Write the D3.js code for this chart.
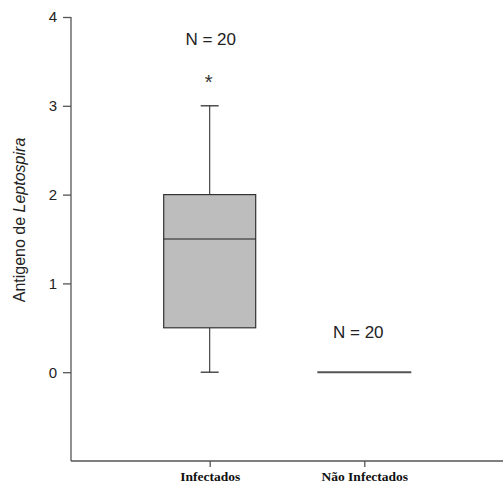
<!DOCTYPE html>
<html><head><meta charset="utf-8">
<script src="https://cdn.jsdelivr.net/npm/d3@7"></script>
<style>body{margin:0;background:#fff}svg{display:block}</style>
</head><body>
<script>
const categories = ["Infectados", "Não Infectados"];
const nLabels = ["N = 20", "N = 20"];
const q1 = [0.5, 0];
const median = [1.5, 0];
const q3 = [2, 0];
const whiskerLow = [0, 0];
const whiskerHigh = [3, 0];
const extremes = [[3.3], []];
const nLabelY = [3.75, 0.45];
const yTicks = [0, 1, 2, 3, 4];

const W = 503, H = 483;
const svg = d3.select("body").append("svg").attr("width", W).attr("height", H);
const y = d3.scaleLinear().domain([-1, 4]).range([461, 17]);
const x = d3.scalePoint().domain(categories).range([71, 503]).padding(0.897);
const axisColor = "#555";

// Y axis
const ya = svg.append("g").attr("transform", "translate(71,0)")
  .call(d3.axisLeft(y).tickValues(yTicks).tickSize(8).tickPadding(6).tickFormat(d3.format("d")));
ya.select(".domain").attr("d", `M-0,${y(4)}V${y(-1)}`).attr("stroke", axisColor).attr("stroke-width", 1.3);
ya.selectAll(".tick line").attr("stroke", axisColor).attr("stroke-width", 1.3);
ya.selectAll(".tick text").attr("font-family", "Arial, Liberation Sans, sans-serif").attr("font-size", 15).attr("fill", "#222");

// X axis
const xa = svg.append("g").attr("transform", `translate(0,${y(-1)})`)
  .call(d3.axisBottom(x).tickSize(6));
xa.select(".domain").attr("d", `M71,0H503`).attr("stroke", axisColor).attr("stroke-width", 1.3);
xa.selectAll(".tick line").attr("stroke", axisColor).attr("stroke-width", 1.3);
xa.selectAll(".tick text").attr("y", 20).attr("dy", 0).attr("font-family", "Times New Roman, Liberation Serif, serif")
  .attr("font-weight", "bold").attr("font-size", 13.5).attr("fill", "#111");

// Y label
const yl = svg.append("text").attr("transform", `translate(25,220) rotate(-90)`)
  .attr("text-anchor", "middle").attr("font-family", "Arial, Liberation Sans, sans-serif")
  .attr("font-size", 16).attr("fill", "#222");
yl.append("tspan").text("Antigeno de ");
yl.append("tspan").attr("font-style", "italic").text("Leptospira");

const boxW = 92, capW = 18;
categories.forEach((c, i) => {
  const cx = x(c);
  const g = svg.append("g");
  if (q3[i] > q1[i]) {
    g.append("line").attr("x1", cx).attr("x2", cx).attr("y1", y(q3[i])).attr("y2", y(whiskerHigh[i])).attr("stroke", "#333").attr("stroke-width", 1.1);
    g.append("line").attr("x1", cx).attr("x2", cx).attr("y1", y(q1[i])).attr("y2", y(whiskerLow[i])).attr("stroke", "#333").attr("stroke-width", 1.1);
    g.append("line").attr("x1", cx - capW / 2).attr("x2", cx + capW / 2).attr("y1", y(whiskerHigh[i])).attr("y2", y(whiskerHigh[i])).attr("stroke", "#333").attr("stroke-width", 1.3);
    g.append("line").attr("x1", cx - capW / 2).attr("x2", cx + capW / 2).attr("y1", y(whiskerLow[i])).attr("y2", y(whiskerLow[i])).attr("stroke", "#333").attr("stroke-width", 1.3);
    g.append("rect").attr("x", cx - boxW / 2).attr("width", boxW)
      .attr("y", y(q3[i])).attr("height", y(q1[i]) - y(q3[i]))
      .attr("fill", "#bdbdbd").attr("stroke", "#333").attr("stroke-width", 1.2);
    g.append("line").attr("x1", cx - boxW / 2).attr("x2", cx + boxW / 2).attr("y1", y(median[i])).attr("y2", y(median[i])).attr("stroke", "#222").attr("stroke-width", 1.2);
  } else {
    g.append("line").attr("x1", cx - 47).attr("x2", cx + 47).attr("y1", y(median[i])).attr("y2", y(median[i])).attr("stroke", "#555").attr("stroke-width", 2);
  }
  extremes[i].forEach(v => {
    g.append("text").attr("x", cx - 1).attr("y", y(v)).attr("dy", 10).attr("text-anchor", "middle")
      .attr("font-family", "Arial, Liberation Sans, sans-serif").attr("font-size", 20).attr("fill", "#333")
      .text("*");
  });
  g.append("text").attr("x", i === 0 ? cx + 1 : cx - 6).attr("y", y(nLabelY[i])).attr("dy", "0.35em")
    .attr("text-anchor", "middle").attr("font-family", "Arial, Liberation Sans, sans-serif")
    .attr("font-size", 17).attr("fill", "#222").text(nLabels[i]);
});
</script>
</body></html>
